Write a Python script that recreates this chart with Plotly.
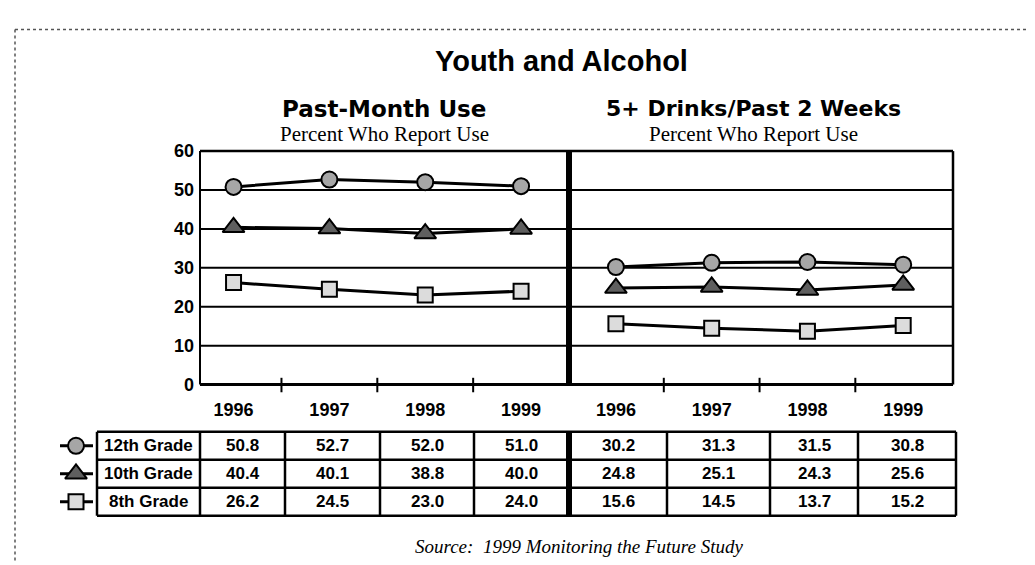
import plotly.graph_objects as go

# ---------------- data ----------------
years = ["1996", "1997", "1998", "1999"]
grades = ["12th Grade", "10th Grade", "8th Grade"]
past_month_12 = [50.8, 52.7, 52.0, 51.0]
past_month_10 = [40.4, 40.1, 38.8, 40.0]
past_month_8 = [26.2, 24.5, 23.0, 24.0]
binge_12 = [30.2, 31.3, 31.5, 30.8]
binge_10 = [24.8, 25.1, 24.3, 25.6]
binge_8 = [15.6, 14.5, 13.7, 15.2]
y_ticks = [0, 10, 20, 30, 40, 50, 60]

W, H = 1035, 565
def px(x):
    return x / W
def py(y):
    return 1 - y / H

SANS = "Liberation Sans, Arial, sans-serif"
SERIF = "Liberation Serif, Times New Roman, serif"
WIDE = "DejaVu Sans, Verdana, sans-serif"

styles = {
    "12th Grade": dict(symbol="circle", size=16, color="#a6a6a6"),
    "10th Grade": dict(symbol="triangle-up", size=19, color="#5f5f5f"),
    "8th Grade": dict(symbol="square", size=15, color="#dcdcdc"),
}

left_vals = {"12th Grade": past_month_12, "10th Grade": past_month_10, "8th Grade": past_month_8}
right_vals = {"12th Grade": binge_12, "10th Grade": binge_10, "8th Grade": binge_8}

fig = go.Figure()
xs = list(range(len(years)))
for g in grades:
    st = styles[g]
    mk = dict(symbol=st["symbol"], size=st["size"], color=st["color"],
              line=dict(color="black", width=2))
    fig.add_trace(go.Scatter(x=xs, y=left_vals[g], mode="lines+markers", xaxis="x", yaxis="y",
                             line=dict(color="black", width=3), marker=mk,
                             showlegend=False, hoverinfo="skip"))
    fig.add_trace(go.Scatter(x=xs, y=right_vals[g], mode="lines+markers", xaxis="x2", yaxis="y",
                             line=dict(color="black", width=3), marker=mk,
                             showlegend=False, hoverinfo="skip"))

# legend keys beside table rows (overlay axis in pixel units)
row_tops = [429, 458, 487, 516]
row_centers = [(row_tops[i] + row_tops[i + 1]) / 2 for i in range(3)]
for g, yc in zip(grades, row_centers):
    st = styles[g]
    fig.add_trace(go.Scatter(x=[52, 85], y=[yc, yc], mode="lines", xaxis="x3", yaxis="y3",
                             line=dict(color="black", width=3), showlegend=False, hoverinfo="skip"))
    fig.add_trace(go.Scatter(x=[68], y=[yc], mode="markers", xaxis="x3", yaxis="y3",
                             marker=dict(symbol=st["symbol"], size=st["size"], color=st["color"],
                                         line=dict(color="black", width=2)),
                             showlegend=False, hoverinfo="skip"))

PL, PM, PR, PT, PB = 192, 561, 945, 138, 380

shapes = []
def line(x0, y0, x1, y1, w=2, xref="paper", yref="paper", color="black", dash=None, layer="above"):
    d = dict(type="line", x0=x0, y0=y0, x1=x1, y1=y1, xref=xref, yref=yref, layer=layer,
             line=dict(color=color, width=w))
    if dash:
        d["line"]["dash"] = dash
    shapes.append(d)

# gridlines
for v in y_ticks[1:-1]:
    line(px(PL), v, px(PR), v, w=2, yref="y", layer="below")
# frame
line(px(PL), py(PT), px(PR), py(PT), w=2.5)
line(px(PR), py(PT), px(PR), py(PB), w=2.5)
line(px(PL), py(PT), px(PL), py(PB), w=2)
line(px(PL), py(PB), px(PR), py(PB), w=3)
line(px(PM), py(PT), px(PM), py(PB), w=6)
# category separator ticks on x axis
for ax in ["x", "x2"]:
    for b in [0.5, 1.5, 2.5]:
        line(b, py(373), b, py(388), w=2, xref=ax)

# table
TL, TR = 89, 948
cols_left = [192, 277, 372, 466, 561]
cols_right = [561, 659, 762, 850, 948]
for yv in row_tops:
    line(px(TL), py(yv), px(TR), py(yv), w=2.5)
for xv in [TL] + cols_left[:-1] + cols_right[1:]:
    line(px(xv), py(row_tops[0]), px(xv), py(row_tops[-1]), w=2.5)
line(px(PM), py(row_tops[0]), px(PM), py(row_tops[-1]), w=6)

# scanned page border
line(px(7), py(12), px(W), py(12), w=1.5, color="#555555", dash="dot")
line(px(7), py(12), px(7), py(H), w=1.5, color="#555555", dash="dot")

annotations = []
def text(x, y, s, size, family, bold=False, color="black", italic=False):
    t = f"<b>{s}</b>" if bold else s
    if italic:
        t = f"<i>{t}</i>"
    annotations.append(dict(x=px(x), y=py(y), xref="paper", yref="paper", text=t, showarrow=False,
                            xanchor="center", yanchor="middle",
                            font=dict(size=size, family=family, color=color)))

text(553, 45, "Youth and Alcohol", 29, SANS, bold=True)
text((PL + PM) / 2, 94, "Past-Month Use", 23, WIDE, bold=True)
text((PM + PR) / 2 - 8, 94, "5+ Drinks/Past 2 Weeks", 22, WIDE, bold=True)
text((PL + PM) / 2, 120, "Percent Who Report Use", 21, SERIF)
text((PM + PR) / 2 - 8, 120, "Percent Who Report Use", 21, SERIF)
text(571, 548, "Source:  1999 Monitoring the Future Study", 19, SERIF, italic=True)

for gi, g in enumerate(grades):
    yc = row_centers[gi]
    text((TL + cols_left[0]) / 2, yc, g, 17, SANS, bold=True)
    for j in range(4):
        text((cols_left[j] + cols_left[j + 1]) / 2, yc, f"{left_vals[g][j]:.1f}", 17, SANS, bold=True)
        text((cols_right[j] + cols_right[j + 1]) / 2, yc, f"{right_vals[g][j]:.1f}", 17, SANS, bold=True)

xcommon = dict(tickvals=xs, ticktext=years, showgrid=False, zeroline=False, showline=False,
               ticks="", ticklabelstandoff=12, fixedrange=True,
               tickfont=dict(size=18, family=SANS, color="black", weight="bold"))

fig.update_layout(
    width=W, height=H,
    margin=dict(l=0, r=0, t=0, b=0),
    paper_bgcolor="white", plot_bgcolor="rgba(0,0,0,0)",
    showlegend=False,
    xaxis=dict(domain=[px(PL), px(PM)], range=[-0.35, 3.5], anchor="y", **xcommon),
    xaxis2=dict(domain=[px(PM), px(PR)], range=[-0.49, 3.52], anchor="y", **xcommon),
    yaxis=dict(domain=[py(PB), py(PT)], range=[0, 60], tickvals=y_ticks, showgrid=False,
               zeroline=False, showline=False, ticks="", ticklabelstandoff=5, anchor="x",
               tickfont=dict(size=18, family=SANS, color="black", weight="bold")),
    xaxis3=dict(domain=[0, 1], range=[0, W], visible=False, anchor="y3"),
    yaxis3=dict(domain=[0, 1], range=[H, 0], visible=False, anchor="x3"),
    shapes=shapes,
    annotations=annotations,
)

fig.write_html("out.html")
